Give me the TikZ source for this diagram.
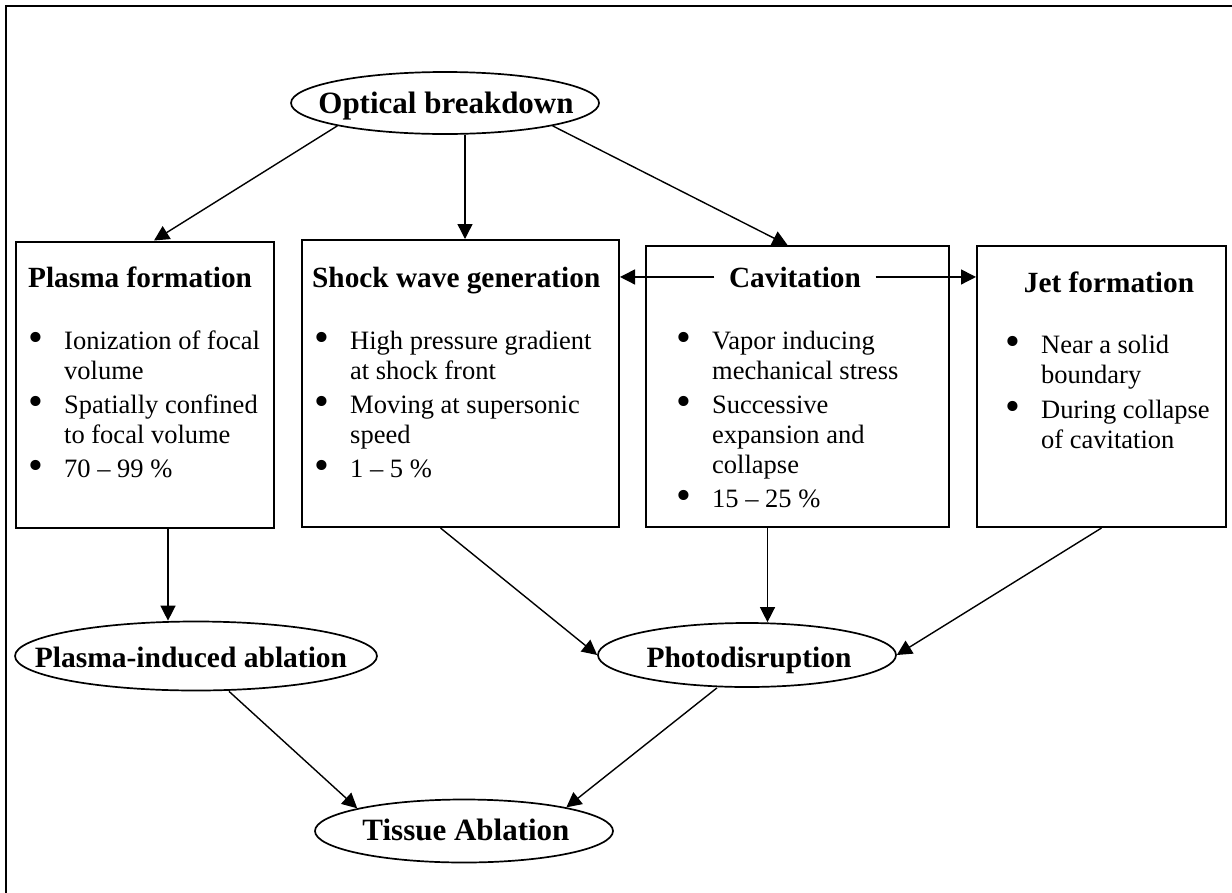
\documentclass[tikz,border=0pt]{standalone}
\usepackage{fontspec}
\setmainfont{Liberation Serif}
\usetikzlibrary{arrows.meta,shapes.geometric,calc}
\newcommand{\bul}{\raisebox{-2.6pt}{\scalebox{1.6}{\textbullet}}}
\tikzset{
  box/.style={draw, line width=2pt, rectangle, inner sep=0pt},
  ell/.style={draw, line width=1.7pt, ellipse, inner sep=0pt},
  elltext/.style={inner sep=0pt, anchor=base, font=\fontsize{31}{36}\selectfont\bfseries},
  elltextb/.style={inner sep=0pt, anchor=base, font=\fontsize{29.5}{34}\selectfont\bfseries},
  head/.style={inner sep=0pt, font=\fontsize{29.3}{34}\selectfont\bfseries},
  body/.style={inner sep=0pt, font=\fontsize{26.5}{30}\selectfont},
  arr/.style={line width=1.4pt, -{Triangle[length=15pt,width=15pt]}},
  frame/.style={line width=2.5pt}
}
\begin{document}
\begin{tikzpicture}[x=1pt,y=-1pt]
\useasboundingbox (0,0) rectangle (1232,892);
% outer frame (partly cropped)
\coordinate (f1) at (1240,6);
\coordinate (f2) at (6,6);
\coordinate (f3) at (6,900);
\draw[frame] (f1) -- (f2) -- (f3);

% ellipses
\node[ell, minimum width=308pt, minimum height=62pt] (ob) at (445,103) {};
\node[elltext] (obt) at (446,113) {Optical breakdown};
\node[ell, minimum width=362pt, minimum height=69pt] (pia) at (196,656) {};
\node[elltextb] (piat) at (191,667) {Plasma-induced ablation};
\node[ell, minimum width=298pt, minimum height=64pt] (pd) at (747,655) {};
\node[elltextb] (pdt) at (749,667) {Photodisruption};
\node[ell, minimum width=298pt, minimum height=63pt] (ta) at (464,831) {};
\node[elltext] (tat) at (466,840) {Tissue Ablation};

% boxes
\node[box, minimum width=258pt, minimum height=286pt] (pf) at (145,384.5) {};
\node[box, minimum width=317pt, minimum height=287pt] (sw) at (460.5,383.5) {};
\node[box, minimum width=303pt, minimum height=281pt] (cav) at (797.5,386.5) {};
\node[box, minimum width=249pt, minimum height=281pt] (jet) at (1101.5,386.5) {};

% headers
\node[head, anchor=base west] (pfh) at (28,287) {Plasma formation};
\node[head, anchor=base west] (swh) at (312,287) {Shock wave generation};
\node[head, anchor=base, inner xsep=14.5pt] (cavh) at (795,287) {Cavitation};
\node[head, anchor=base] (jeth) at (1109,292) {Jet formation};

% bullet lists
\node[body, anchor=base west] (pfb) at (28,349) {\begin{tabular}[t]{@{}p{36pt}@{}l@{}}
\bul & Ionization of focal\\ & volume\\[4pt]
\bul & Spatially confined\\ & to focal volume\\[4pt]
\bul & 70 – 99 \%
\end{tabular}};
\node[body, anchor=base west] (swb) at (314,349) {\begin{tabular}[t]{@{}p{36pt}@{}l@{}}
\bul & High pressure gradient\\ & at shock front\\[4pt]
\bul & Moving at supersonic\\ & speed\\[4pt]
\bul & 1 – 5 \%
\end{tabular}};
\node[body, anchor=base west] (cavb) at (676,349) {\begin{tabular}[t]{@{}p{36pt}@{}l@{}}
\bul & Vapor inducing\\ & mechanical stress\\[4pt]
\bul & Successive\\ & expansion and\\ & collapse\\[4pt]
\bul & 15 – 25 \%
\end{tabular}};
\node[body, anchor=base west] (jetb) at (1005,353) {\begin{tabular}[t]{@{}p{36pt}@{}l@{}}
\bul & Near a solid\\ & boundary\\[5pt]
\bul & During collapse\\ & of cavitation
\end{tabular}};

% connectors
\draw[arr] (ob.192) -- ([xshift=9pt]pf.north);
\draw[arr] ([xshift=20pt]ob.south) -- ([xshift=20pt]ob.south |- sw.north);
\draw[arr] (ob.-12) -- ([xshift=-10pt]cav.north);
\draw[arr] (cavh.west) -- (sw.east |- cavh.west);
\draw[arr] (cavh.east) -- (jet.west |- cavh.east);
\draw[arr] ([xshift=23pt]pf.south) -- ([xshift=23pt]pf.south |- pia.north);
\draw[arr] ([xshift=-20pt]sw.south) -- (pd.west);
\draw[arr] ([xshift=-30pt]cav.south) -- ([xshift=-30pt]cav.south |- pd.north);
\draw[arr] (jet.south) -- (pd.east);
\draw[arr] ([xshift=33pt]pia.south) -- (ta.168);
\draw[arr] ([xshift=-30pt]pd.south) -- (ta.13);
\end{tikzpicture}
\end{document}
